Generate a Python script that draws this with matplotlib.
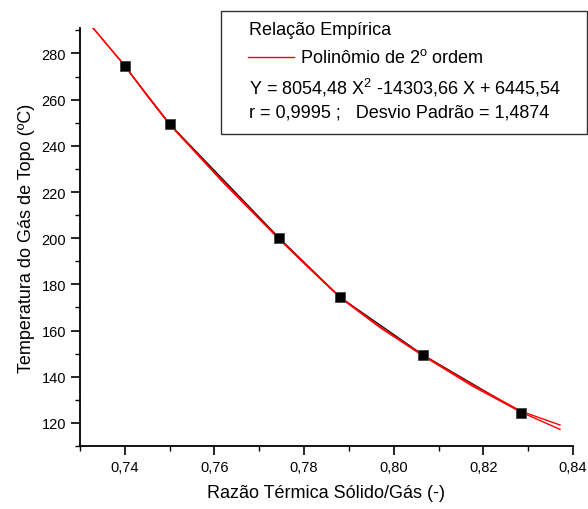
import matplotlib
matplotlib.use("Agg")
import matplotlib.pyplot as plt
from matplotlib.patches import Rectangle
from matplotlib.lines import Line2D
from matplotlib.ticker import MultipleLocator, FixedLocator

plt.rcParams['font.family'] = ['Liberation Sans', 'DejaVu Sans']
plt.rcParams['mathtext.fontset'] = 'custom'
plt.rcParams['mathtext.rm'] = 'Liberation Sans'
plt.rcParams['mathtext.it'] = 'Liberation Sans'

# Measured points (Relação Empírica)
razao = [0.740, 0.750, 0.7745, 0.788, 0.8065, 0.8285]
temp = [274.5, 249.5, 200.0, 174.5, 149.5, 124.5]

# Red fitted curves
fit1_x = [0.7325, 0.740, 0.745, 0.750, 0.762, 0.7745, 0.781, 0.788, 0.797, 0.8065, 0.8175, 0.8285, 0.8371]
fit1_y = [292.0, 274.8, 261.6, 249.2, 224.0, 199.4, 187.2, 174.3, 161.2, 149.1, 136.0, 124.6, 117.2]
fit2_x = [0.7325, 0.740, 0.745, 0.750, 0.762, 0.7745, 0.781, 0.788, 0.797, 0.8065, 0.8175, 0.8285, 0.8371]
fit2_y = [292.0, 274.6, 261.9, 249.4, 224.5, 199.7, 187.5, 174.6, 161.6, 149.4, 136.6, 125.0, 119.1]

x_ticks = [0.74, 0.76, 0.78, 0.80, 0.82, 0.84]
x_labels = ["0,74", "0,76", "0,78", "0,80", "0,82", "0,84"]
y_ticks = [120, 140, 160, 180, 200, 220, 240, 260, 280]

fig = plt.figure(figsize=(5.88, 5.10), dpi=100)
ax = fig.add_axes([0.136, 0.1235, 0.8385, 0.8195])

ax.plot(fit1_x, fit1_y, color='red', lw=1.0, zorder=3)
ax.plot(fit2_x, fit2_y, color='red', lw=1.0, zorder=3)
ax.plot(razao, temp, color='black', lw=0.9, zorder=2)
ax.plot(razao, temp, 's', color='black', markersize=7.5,
        markeredgecolor='#444444', markeredgewidth=0.6, zorder=4)

ax.set_xlim(0.73, 0.84)
ax.set_ylim(110, 291)
ax.xaxis.set_major_locator(FixedLocator(x_ticks))
ax.set_xticklabels(x_labels)
ax.xaxis.set_minor_locator(MultipleLocator(0.01))
ax.yaxis.set_major_locator(FixedLocator(y_ticks))
ax.yaxis.set_minor_locator(MultipleLocator(10))

for s in ['top', 'right']:
    ax.spines[s].set_visible(False)
for s in ['left', 'bottom']:
    ax.spines[s].set_linewidth(1.3)
ax.tick_params(which='major', direction='out', length=6.5, width=1.2, labelsize=10.5)
ax.tick_params(which='minor', direction='out', length=3.5, width=1.0)

ax.set_xlabel("Razão Térmica Sólido/Gás (-)", fontsize=13, labelpad=7)
ax.set_ylabel("Temperatura do Gás de Topo (ºC)", fontsize=13, labelpad=5)

# legend box drawn in figure coordinates
fig.patches.append(Rectangle((0.376, 0.735), 0.622, 0.241, transform=fig.transFigure,
                             fill=False, edgecolor='#333333', lw=1.0))
fs = 13
fig.text(0.4235, 0.941, "Relação Empírica", fontsize=fs, va='center')
fig.lines.append(Line2D([0.4218, 0.500], [0.886, 0.886], transform=fig.transFigure,
                        color='red', lw=1.0))
fig.text(0.510, 0.886, "Polinômio de 2$^{\\mathrm{o}}$ ordem", fontsize=fs, va='center')
fig.text(0.4235, 0.827, "Y = 8054,48 X$^{2}$ -14303,66 X + 6445,54", fontsize=fs, va='center')
fig.text(0.4235, 0.778, "r = 0,9995 ;   Desvio Padrão = 1,4874", fontsize=fs, va='center')

fig.savefig("out.png", dpi=100)
